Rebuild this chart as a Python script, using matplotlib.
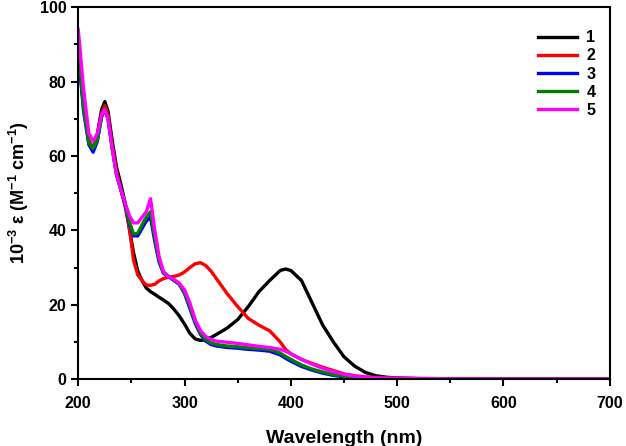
import matplotlib
matplotlib.use("Agg")
import matplotlib.pyplot as plt
from matplotlib.ticker import MultipleLocator

plt.rcParams['font.family'] = ['Liberation Sans', 'DejaVu Sans']
plt.rcParams['font.weight'] = 'bold'
plt.rcParams['mathtext.fontset'] = 'custom'
plt.rcParams['mathtext.rm'] = 'Liberation Sans:bold'
plt.rcParams['mathtext.bf'] = 'Liberation Sans:bold'
plt.rcParams['mathtext.default'] = 'bf'

# wavelength grid (nm)
wl = [200, 205, 210, 214, 218, 222, 225, 228, 232, 236, 240, 244, 248, 252,
      256, 260, 264, 268, 272, 276, 280, 285, 290, 295, 300, 305, 310, 315,
      320, 325, 330, 340, 350, 360, 370, 380, 390, 395, 400, 410, 420, 430,
      440, 450, 460, 470, 480, 490, 500, 520, 550, 600, 650, 700]

eps1 = [88, 74, 64, 62, 66, 72.5, 74.6, 72, 64, 57, 52.5, 47.5, 40.5, 34,
        29, 26.5, 24.5, 23.5, 22.8, 22, 21.3, 20.3, 18.8, 17, 14.8, 12.3, 10.8, 10.4,
        10.6, 11.2, 12, 13.7, 16, 19.5, 23.5, 26.5, 29.2, 29.6, 29.2, 26.5, 20.5, 14.5,
        10, 6, 3.5, 1.8, 0.9, 0.5, 0.3, 0.15, 0.1, 0.05, 0.05, 0.05]

eps2 = [88, 74, 64, 62, 65.5, 71.5, 73.5, 71, 63, 56, 51, 46.5, 41, 32,
        28, 26.5, 25.3, 25.2, 25.5, 26.4, 27, 27.4, 27.6, 28, 28.8, 30, 31, 31.3,
        30.5, 29, 27, 23, 19.5, 16.3, 14.5, 13, 10, 8, 6.8, 5.3, 4.2, 3.2,
        2.3, 1.4, 0.9, 0.6, 0.4, 0.3, 0.25, 0.15, 0.1, 0.05, 0.05, 0.05]

eps3 = [88, 72, 63, 61, 64, 70.5, 72.5, 70, 62, 55, 51, 47, 42, 38.5,
        38.5, 40.5, 42.5, 43.5, 37, 31.5, 28.5, 27.5, 26.5, 25.5, 23, 19, 15, 12,
        10.2, 9.3, 8.9, 8.5, 8.3, 8, 7.8, 7.5, 6.5, 5.6, 4.8, 3.4, 2.4, 1.6,
        1.0, 0.6, 0.4, 0.25, 0.2, 0.15, 0.1, 0.08, 0.05, 0.05, 0.05, 0.05]

eps4 = [89, 73, 63.5, 62, 64.5, 70.8, 72.7, 70, 62, 55, 51, 47.2, 42.5, 39,
        39.2, 41.5, 43.5, 45, 38, 32, 28.8, 27.6, 26.6, 25.6, 23.3, 19.5, 15.5, 12.3,
        10.6, 9.7, 9.3, 8.9, 8.7, 8.4, 8.2, 8, 7, 6.1, 5.3, 3.8, 2.7, 1.9,
        1.2, 0.8, 0.5, 0.3, 0.22, 0.17, 0.12, 0.08, 0.05, 0.05, 0.05, 0.05]

eps5 = [94, 78, 66, 64, 66, 71, 72.5, 70, 62, 55, 51, 47.5, 44, 42,
        42, 43.5, 45, 48.5, 40, 33, 29, 27.5, 26.8, 25.8, 24, 20.5, 16, 13,
        11.5, 10.6, 10.2, 9.9, 9.6, 9.2, 8.8, 8.5, 8, 7.5, 6.8, 5.3, 4, 2.9,
        2, 1.3, 0.8, 0.5, 0.35, 0.25, 0.2, 0.12, 0.08, 0.05, 0.05, 0.05]

labels = ['1', '2', '3', '4', '5']
colors = ['black', '#ff0000', '#0000ff', '#008000', '#ff00ff']

fig = plt.figure(figsize=(6.26, 4.46), dpi=100)
ax = fig.add_axes([0.125, 0.150, 0.849, 0.834])

for y, lab, c in zip([eps1, eps2, eps3, eps4, eps5], labels, colors):
    ax.plot(wl, y, color=c, lw=2.4, label=lab)

ax.set_xlim(200, 700)
ax.set_ylim(0, 100)
ax.xaxis.set_major_locator(MultipleLocator(100))
ax.xaxis.set_minor_locator(MultipleLocator(50))
ax.yaxis.set_major_locator(MultipleLocator(20))
ax.yaxis.set_minor_locator(MultipleLocator(10))
ax.tick_params(which='major', direction='out', length=5, width=1.5, labelsize=11.5)
ax.tick_params(axis='x', which='major', pad=7)
ax.tick_params(which='minor', direction='out', length=3, width=1.5)
for s in ax.spines.values():
    s.set_linewidth(1.5)

ax.set_xlabel('Wavelength (nm)', fontsize=14, fontweight='bold', labelpad=14)
ax.set_ylabel(r'10$^{-3}$ ε (M$^{-1}$ cm$^{-1}$)', fontsize=13, fontweight='bold', labelpad=6)

leg = ax.legend(loc='upper right', frameon=False, fontsize=11.5, handlelength=2.4,
                handletextpad=0.6, labelspacing=0.2, borderaxespad=0.0,
                bbox_to_anchor=(0.985, 0.955))

fig.savefig('out.png', dpi=100)
